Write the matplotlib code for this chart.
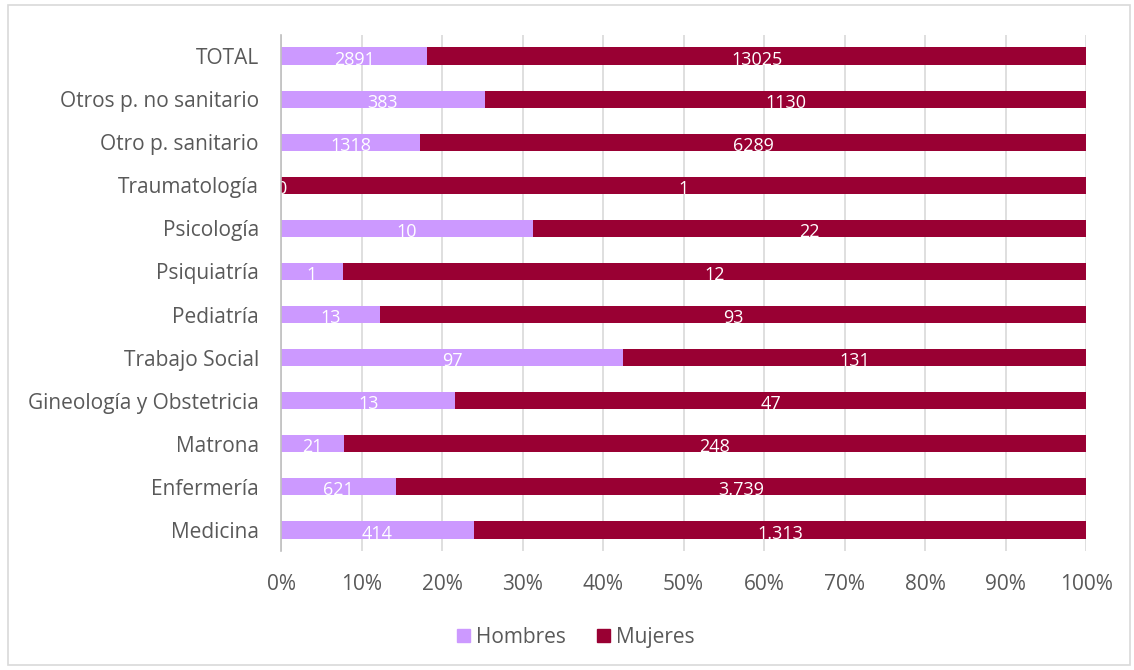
"""100% stacked bars: hombres / mujeres por categoría profesional"""
import matplotlib
matplotlib.use('Agg')
from matplotlib import pyplot as plt
from matplotlib.patches import Rectangle
import numpy as np

categories = ['Medicina', 'Enfermería', 'Matrona', 'Gineología y Obstetricia',
              'Trabajo Social', 'Pediatría', 'Psiquiatría', 'Psicología',
              'Traumatología', 'Otro p. sanitario', 'Otros p. no sanitario', 'TOTAL']
hombres = [414, 621, 21, 13, 97, 13, 1, 10, 0, 1318, 383, 2891]
mujeres = [1313, 3739, 248, 47, 131, 93, 12, 22, 1, 6289, 1130, 13025]
# rows whose labels use a thousands separator
dotted = {'Medicina', 'Enfermería'}

c_h = '#CC99FF'
c_m = '#990033'
grey = '#595959'

plt.rcParams['font.family'] = ['Open Sans', 'DejaVu Sans']

fig = plt.figure(figsize=(11.34, 6.70), dpi=100)
ax = fig.add_axes([0.2478, 0.1769, 0.9577 - 0.2478, 0.9485 - 0.1769])

h = np.array(hombres, dtype=float)
m = np.array(mujeres, dtype=float)
tot = h + m
ph = h / tot
pm = m / tot
y = np.arange(len(categories))

ax.barh(y, ph, height=0.4, color=c_h, zorder=2)
ax.barh(y, pm, left=ph, height=0.4, color=c_m, zorder=2)


def fmt(v, cat):
    s = f'{v:,}'
    return s.replace(',', '.') if cat in dotted else s.replace(',', '')


for i, cat in enumerate(categories):
    ax.text(ph[i] / 2, y[i] - 0.2, fmt(hombres[i], cat), color='white',
            ha='center', va='baseline', fontsize=13, zorder=3)
    ax.text(ph[i] + pm[i] / 2, y[i] - 0.2, fmt(mujeres[i], cat), color='white',
            ha='center', va='baseline', fontsize=13, zorder=3)

ax.set_xlim(0, 1)
ax.set_ylim(-0.5, len(categories) - 0.5)
ax.set_xticks(np.arange(0, 1.01, 0.1))
ax.set_xticklabels([f'{int(round(t * 100))}%' for t in np.arange(0, 1.01, 0.1)])
ax.set_yticks(y)
ax.set_yticklabels(categories)
ax.tick_params(axis='both', length=0, colors=grey, labelsize=15)
ax.tick_params(axis='x', pad=16)
ax.tick_params(axis='y', pad=16)
ax.grid(axis='x', color='#d9d9d9', linewidth=1.2, zorder=0)
for s in ['top', 'right', 'bottom']:
    ax.spines[s].set_visible(False)
ax.spines['left'].set_color('#bfbfbf')
ax.spines['left'].set_linewidth(1.2)
ax.spines['left'].set_zorder(4)

handles = [Rectangle((0, 0), 1, 1, color=c_h), Rectangle((0, 0), 1, 1, color=c_m)]
fig.legend(handles, ['Hombres', 'Mujeres'], loc='center', bbox_to_anchor=(0.508, 0.049),
           ncol=2, frameon=False, fontsize=15, labelcolor=grey,
           handlelength=0.6, handleheight=0.6, handletextpad=0.3, columnspacing=1.5)

# light frame around the chart
fig.patches.append(Rectangle((8 / 1134, 5 / 670), 1122 / 1134, 660 / 670,
                             transform=fig.transFigure, fill=False,
                             edgecolor='#d9d9d9', linewidth=1.2))

fig.savefig('out.png', dpi=100, facecolor='white')
